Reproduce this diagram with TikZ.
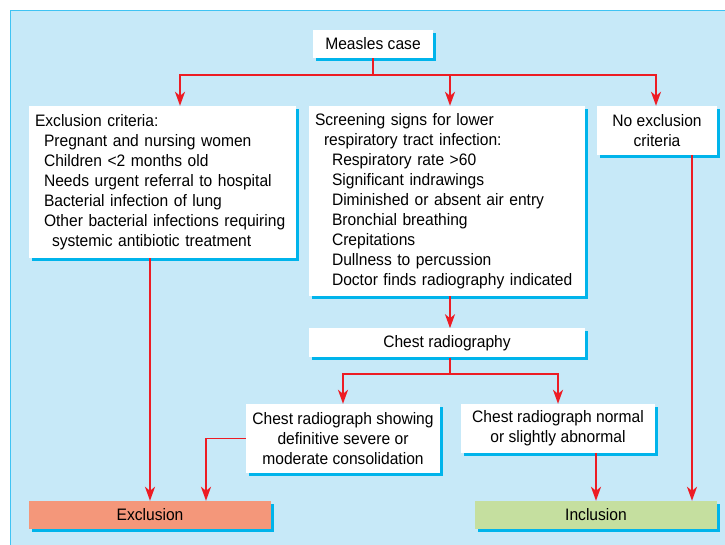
\documentclass[tikz,border=0pt]{standalone}
\usepackage{fontspec}
\setmainfont{Liberation Sans}[FakeStretch=0.94]
\usepackage{tikz}
\usetikzlibrary{arrows.meta,
                positioning,
                shadows}
\definecolor{panelblue}{HTML}{C7E9F8}
\definecolor{panelline}{HTML}{3FC3F3}
\definecolor{shadowcyan}{HTML}{00B4EB}
\definecolor{linered}{HTML}{ED1C24}
\definecolor{exclred}{HTML}{F4977A}
\definecolor{inclgreen}{HTML}{C5DF9F}
\tikzstyle{redarrow} = [line width=1.9pt,draw=linered,-{Stealth[length=14pt,width=10pt,inset=4pt]}]
\tikzstyle{flowbox} = [fill=white,inner sep=0pt,align=center,
    font=\fontsize{16.6}{20}\selectfont,
    drop shadow={shadow xshift=3pt,shadow yshift=-3pt,fill=shadowcyan,opacity=1}]
\tikzstyle{listbox} = [flowbox,align=left,inner xsep=6pt]

\begin{document}
\begin{tikzpicture}[x=1pt,y=-1pt]
        \useasboundingbox (0,0) rectangle (725,545);
        \fill[white] (0,0) rectangle (725,545);
        \draw[fill=panelblue,draw=panelline,line width=1.3pt] (10.5,10.5) rectangle (740,560);

        \node[flowbox, minimum width=120pt, minimum height=28pt] (measles) at (373,44) {Measles case};
        \node[listbox, text width=255pt, minimum height=152pt] (exccrit) at (162.5,182) {Exclusion criteria:\\
            \hspace*{9pt}Pregnant and nursing women\\
            \hspace*{9pt}Children <2 months old\\
            \hspace*{9pt}Needs urgent referral to hospital\\
            \hspace*{9pt}Bacterial infection of lung\\
            \hspace*{9pt}Other bacterial infections requiring\\
            \hspace*{17pt}systemic antibiotic treatment};
        \node[listbox, text width=264pt, minimum height=190pt] (screen) at (447,201) {Screening signs for lower\\
            \hspace*{9pt}respiratory tract infection:\\
            \hspace*{17pt}Respiratory rate >60\\
            \hspace*{17pt}Significant indrawings\\
            \hspace*{17pt}Diminished or absent air entry\\
            \hspace*{17pt}Bronchial breathing\\
            \hspace*{17pt}Crepitations\\
            \hspace*{17pt}Dullness to percussion\\
            \hspace*{17pt}Doctor finds radiography indicated};
        \node[flowbox, minimum width=120pt, minimum height=49pt] (noexcl) at (657,130.5) {No exclusion\\criteria};
        \node[flowbox, minimum width=276pt, minimum height=29pt] (chestrad) [below=32pt of screen] {Chest radiography};
        \node[flowbox, minimum width=194pt, minimum height=69pt] (showing) at (343,438.5) {Chest radiograph showing\\definitive severe or\\moderate consolidation};
        \node[flowbox, minimum width=194pt, minimum height=49pt] (normal) at (558,428.5) {Chest radiograph normal\\or slightly abnormal};
        \node[flowbox, fill=exclred, minimum width=242pt, minimum height=28pt] (exclusion) at (150,515) {Exclusion};
        \node[flowbox, fill=inclgreen, minimum width=242pt, minimum height=28pt] (inclusion) at (596,515) {Inclusion};
        \coordinate (noexclout) at ([xshift=35pt]noexcl.south);

        \draw[redarrow] (measles.south) -- ++(0,17) -| ([xshift=17.5pt]exccrit.north);
        \draw[redarrow] (measles.south) -- ++(0,17) -| ([xshift=3pt]screen.north);
        \draw[redarrow] (measles.south) -- ++(0,17) -| ([xshift=-1pt]noexcl.north);
        \draw[redarrow] (exccrit.south -| exclusion.north) -- (exclusion.north);
        \draw[redarrow] ([xshift=3pt]screen.south) -- ([xshift=3pt]chestrad.north);
        \draw[redarrow] ([xshift=3pt]chestrad.south) -- ++(0,16) -| (showing.north);
        \draw[redarrow] ([xshift=3pt]chestrad.south) -- ++(0,16) -| (normal.north);
        \draw[redarrow] (showing.west) -| ([xshift=56pt]exclusion.north);
        \draw[redarrow] (normal.south -| inclusion.north) -- (inclusion.north);
        \draw[redarrow] (noexclout) -- (noexclout |- inclusion.north);
    \end{tikzpicture}
\end{document}
